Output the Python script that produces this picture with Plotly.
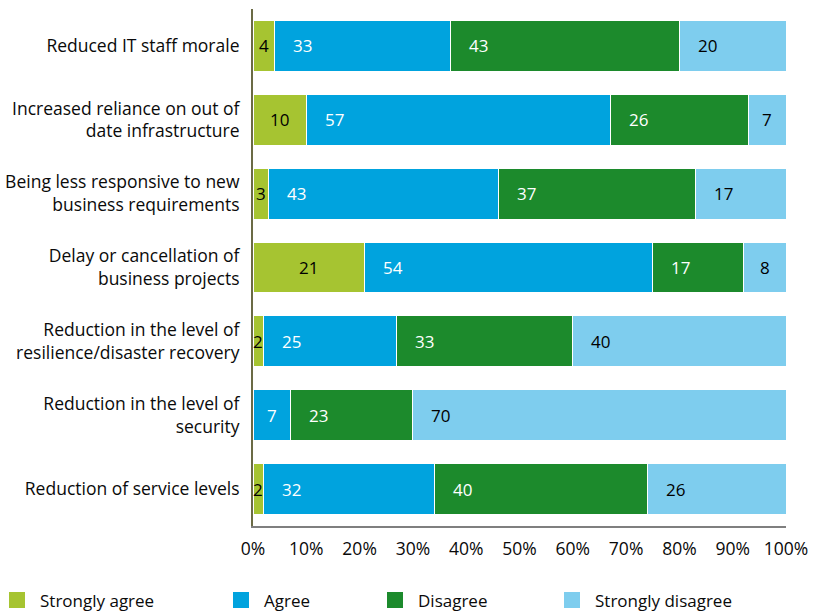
import plotly.graph_objects as go

# Survey statements (top to bottom) and response shares in percent
categories = [
    "Reduced IT staff morale",
    "Increased reliance on out of<br>date infrastructure",
    "Being less responsive to new<br>business requirements",
    "Delay or cancellation of<br>business projects",
    "Reduction in the level of<br>resilience/disaster recovery",
    "Reduction in the level of<br>security",
    "Reduction of service levels",
]
series_names = ["Strongly agree", "Agree", "Disagree", "Strongly disagree"]
strongly_agree = [4, 10, 3, 21, 2, 0, 2]
agree = [33, 57, 43, 54, 25, 7, 32]
disagree = [43, 26, 37, 17, 33, 23, 40]
strongly_disagree = [20, 7, 17, 8, 40, 70, 26]
x_ticks = [0, 10, 20, 30, 40, 50, 60, 70, 80, 90, 100]

series_values = [strongly_agree, agree, disagree, strongly_disagree]
colors = ["#a6c431", "#00a3de", "#1c8a2c", "#7ecdee"]
label_colors = ["#000000", "#ffffff", "#ffffff", "#000000"]
centered = [True, False, False, False]

FONT = "Open Sans"
TEXT = "#0a0a0a"
W, H = 827, 611
ML, MR, MT, MB = 253, 41, 9, 85
plot_w = W - ML - MR
plot_h = H - MT - MB

fig = go.Figure()
for name, vals, col in zip(series_names, series_values, colors):
    fig.add_trace(go.Bar(
        y=categories, x=vals, name=name, orientation="h",
        marker=dict(color=col, line=dict(color="#ffffff", width=1)),
        hoverinfo="x+name", showlegend=False,
    ))

# Value labels inside the segments: centred for narrow segments,
# otherwise set a fixed distance in from the segment's left edge.
inset = 28 / plot_w * 100
annotations = []
for i, cat in enumerate(categories):
    start = 0
    for s, vals in enumerate(series_values):
        v = vals[i]
        if v > 0:
            off = v / 2 if centered[s] else min(v / 2, inset)
            annotations.append(dict(
                x=start + off, y=cat, xref="x", yref="y", text=str(v),
                showarrow=False, xanchor="center",
                font=dict(family=FONT, size=17, color=label_colors[s]),
            ))
        start += v

# Legend row along the bottom
legend_px = [9, 233, 387, 564]
def px_to_paper_x(px):
    return (px - ML) / plot_w
def py_to_paper_y(py):
    return (H - MB - py) / plot_h

shapes = []
for name, col, px in zip(series_names, colors, legend_px):
    shapes.append(dict(
        type="rect", xref="paper", yref="paper",
        x0=px_to_paper_x(px), x1=px_to_paper_x(px + 16),
        y0=py_to_paper_y(608), y1=py_to_paper_y(592),
        fillcolor=col, line=dict(width=0),
    ))
    annotations.append(dict(
        x=px_to_paper_x(px + 29), y=py_to_paper_y(600),
        xref="paper", yref="paper", text=name, showarrow=False,
        xanchor="left", yanchor="middle",
        font=dict(family=FONT, size=17, color=TEXT),
    ))

fig.update_layout(
    barmode="stack",
    width=W, height=H,
    margin=dict(l=ML, r=MR, t=MT, b=MB, pad=0, autoexpand=False),
    bargap=0.31,
    plot_bgcolor="#ffffff", paper_bgcolor="#ffffff",
    font=dict(family=FONT, size=17, color=TEXT),
    annotations=annotations, shapes=shapes,
    showlegend=False,
)
fig.update_xaxes(
    range=[0, 100], tickvals=x_ticks, ticktext=[f"{t}%" for t in x_ticks],
    showgrid=False, zeroline=False, showline=True, linecolor="#7f7f7f",
    linewidth=2, ticks="", ticklabelstandoff=6, automargin=False,
    tickfont=dict(family=FONT, size=17.5, color=TEXT),
)
fig.update_yaxes(
    autorange="reversed", showgrid=False, zeroline=False, showline=True,
    linecolor="#6b6b45", linewidth=2, ticks="", ticklabelstandoff=8,
    automargin=False,
    tickfont=dict(family=FONT, size=17.5, color=TEXT),
)

fig.write_html("out.html")
